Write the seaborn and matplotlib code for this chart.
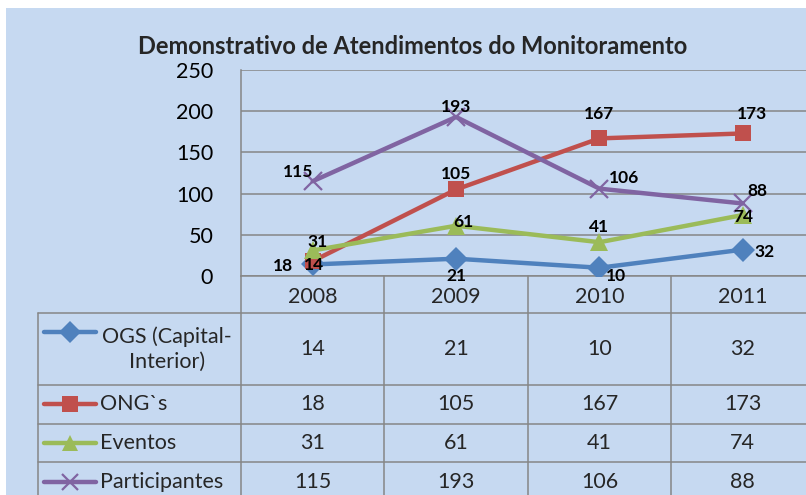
import matplotlib
matplotlib.use("Agg")
import matplotlib.pyplot as plt
import matplotlib.transforms as mtransforms
from matplotlib.patches import Rectangle
from matplotlib.lines import Line2D
import seaborn as sns
import pandas as pd

# ---- data ----
years = ["2008", "2009", "2010", "2011"]
series_names = ["OGS (Capital-\nInterior)", "ONG`s", "Eventos", "Participantes"]
ogs = [14, 21, 10, 32]
ongs = [18, 105, 167, 173]
eventos = [31, 61, 41, 74]
participantes = [115, 193, 106, 88]
all_values = [ogs, ongs, eventos, participantes]

colors = ["#4F81BD", "#C0504D", "#9BBB59", "#8064A2"]
markers = ["D", "s", "^", "x"]
msizes = [12, 12, 13, 13]
# label offsets in pixels (dx, dy) per series per year
offsets = [
    [(1, -1), (0, -17), (17, -8), (22, -2)],
    [(-30, -5), (0, 15), (0, 24), (9, 19)],
    [(5, 8), (7, 4), (0, 15), (0, -2)],
    [(-15, 9), (0, 10), (25, 11), (15, 12)],
]

W, H = 806, 495
BG = "#C6D9F1"
GRID = "#868686"
FONT = "Lato"

sns.set_theme(style="white")
plt.rcParams["font.family"] = [FONT, "DejaVu Sans"]

fig = plt.figure(figsize=(W / 100, H / 100), dpi=100)
fig.patch.set_facecolor("white")
fig.patches.append(Rectangle((6 / W, 0), 1, 1 - 8 / H, transform=fig.transFigure,
                             facecolor=BG, edgecolor="none", zorder=-10))

def fx(x):
    return x / W

def fy(y):
    return 1 - y / H

ax = fig.add_axes([fx(241), fy(276), (814.5 - 241) / W, (276 - 70) / H])
ax.set_facecolor("none")

rows = []
for name, vals in zip(series_names, all_values):
    for i, v in enumerate(vals):
        rows.append({"series": name, "pos": i, "value": v})
df = pd.DataFrame(rows)

for k, name in enumerate(series_names):
    sub = df[df["series"] == name]
    sns.lineplot(data=sub, x="pos", y="value", ax=ax, color=colors[k], linewidth=3.2,
                 marker=markers[k], markersize=msizes[k],
                 markeredgewidth=1.6 if markers[k] == "x" else 0,
                 markeredgecolor=colors[k], zorder=3 + k, legend=False)
    for i, v in enumerate(all_values[k]):
        dx, dy = offsets[k][i]
        ax.annotate(str(v), (i, v), xytext=(dx, dy), textcoords="offset pixels",
                    ha="center", va="center", fontsize=12.5, fontweight="bold",
                    color="black", zorder=10, annotation_clip=False)

ax.set_xlim(-0.5, 3.5)
ax.set_ylim(0, 250)
ax.set_yticks([0, 50, 100, 150, 200, 250])
ax.tick_params(axis="y", labelsize=15.5, length=0, pad=20, colors="black")
ax.set_xticks([])
ax.set_xlabel("")
ax.set_ylabel("")
ax.grid(axis="y", color=GRID, linewidth=1.1)
for s in ["top", "right"]:
    ax.spines[s].set_visible(False)
for s in ["left", "bottom"]:
    ax.spines[s].set_color(GRID)
    ax.spines[s].set_linewidth(1.1)

fig.text(fx(413), fy(46), "Demonstrativo de Atendimentos do Monitoramento",
         ha="center", va="center", fontsize=17, fontweight="bold")

# ---- data table ----
tr = mtransforms.blended_transform_factory(ax.transData, fig.transFigure)
row_bounds = [276, 313, 385, 424, 462, 505]
row_centers = [349, 404, 443, 482]
line_kw = dict(color=GRID, linewidth=1.1, clip_on=False)

# vertical lines at category boundaries
for b in [-0.5, 0.5, 1.5, 2.5, 3.5]:
    fig.add_artist(Line2D([b, b], [fy(276), fy(505)], transform=tr, **line_kw))
# left border of legend column
fig.add_artist(Line2D([fx(38), fx(38)], [fy(313), fy(505)], transform=fig.transFigure, **line_kw))
# horizontal lines
for yb in row_bounds[1:5]:
    fig.add_artist(Line2D([fx(38), 1.05], [fy(yb), fy(yb)], transform=fig.transFigure, **line_kw))

for i, yr in enumerate(years):
    fig.text(i, fy(297), yr, transform=tr, ha="center", va="center", fontsize=15.5)

marker_y = [332, 404, 443, 482]
for k, name in enumerate(series_names):
    fig.add_artist(Line2D([fx(44), fx(96)], [fy(marker_y[k])] * 2, transform=fig.transFigure,
                          color=colors[k], linewidth=3.2, clip_on=False))
    fig.add_artist(Line2D([fx(70)], [fy(marker_y[k])], transform=fig.transFigure,
                          color=colors[k], marker=markers[k], markersize=msizes[k] - 1,
                          markeredgewidth=1.6 if markers[k] == "x" else 0,
                          markeredgecolor=colors[k], linestyle="none", clip_on=False))
    if k == 0:
        fig.text(fx(167), fy(row_centers[k]), name, ha="center", va="center",
                 fontsize=15.5, linespacing=1.3, multialignment="center")
    else:
        fig.text(fx(100), fy(row_centers[k]), name, ha="left", va="center", fontsize=15.5)
    for i, v in enumerate(all_values[k]):
        fig.text(i, fy(row_centers[k]), str(v), transform=tr, ha="center", va="center",
                 fontsize=15.5)

fig.savefig("out.png", dpi=100, facecolor=fig.get_facecolor())
